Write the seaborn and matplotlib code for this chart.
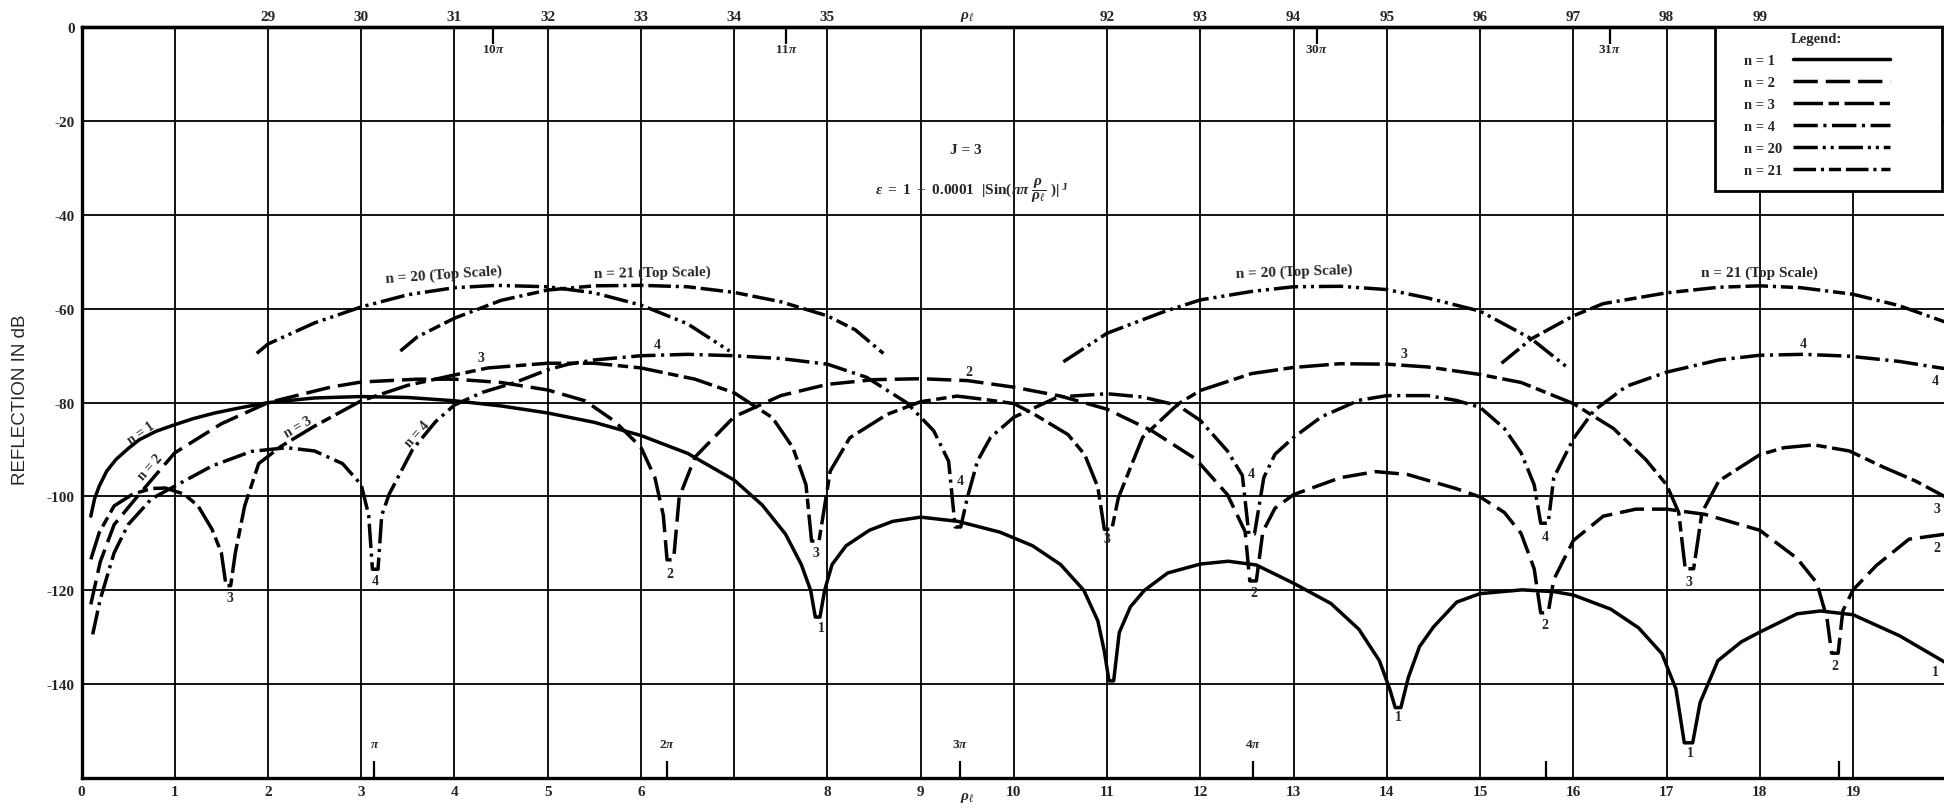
import numpy as np
import pandas as pd
import matplotlib
matplotlib.use("Agg")
import matplotlib.pyplot as plt
import seaborn as sns
from matplotlib.lines import Line2D
from matplotlib.patches import Rectangle

# ---------------- data ----------------
n1_x = [0.10, 0.14, 0.19, 0.27, 0.37, 0.5, 0.62, 0.8, 1.0, 1.2, 1.43, 1.7, 2.0, 2.5, 3.0, 3.5, 4.0,
        4.5, 5.0, 5.5, 6.0, 6.5, 7.0, 7.3, 7.55, 7.72, 7.82, 7.87, 7.92, 7.97, 8.05, 8.2, 8.45, 8.7,
        9.0, 9.4, 9.85, 10.2, 10.5, 10.75, 10.9, 10.97, 11.02, 11.07, 11.13, 11.25, 11.4, 11.65,
        12.0, 12.3, 12.6, 13.0, 13.4, 13.7, 13.92, 14.03, 14.09, 14.15, 14.23, 14.35, 14.5, 14.75,
        15.0, 15.45, 15.8, 16.0, 16.4, 16.7, 16.95, 17.1, 17.19, 17.28, 17.36, 17.55, 17.8, 18.0,
        18.4, 18.65, 19.0, 19.5, 20.0]
n1_y = [-104.2, -100.5, -97.8, -94.6, -92.1, -89.8, -87.9, -86.1, -84.7, -83.4, -82.2, -81.1,
        -80.0, -79.0, -78.7, -78.9, -79.6, -80.7, -82.2, -84.2, -87.0, -90.8, -96.5, -101.8,
        -108.0, -114.5, -120.0, -125.7, -125.7, -120.0, -114.5, -110.5, -107.2, -105.3, -104.4,
        -105.3, -107.6, -110.5, -114.5, -120.0, -126.5, -133.0, -139.3, -139.3, -129.0, -123.5,
        -120.0, -116.3, -114.4, -113.8, -114.6, -118.5, -122.8, -128.3, -135.0, -141.0, -145.0,
        -145.0, -138.6, -132.0, -127.8, -122.5, -120.7, -119.9, -120.3, -121.0, -124.0, -128.0,
        -133.5, -141.0, -152.5, -152.5, -143.9, -135.0, -131.0, -128.9, -125.0, -124.4, -125.2,
        -129.7, -135.5]

n2_x = [0.10, 0.2, 0.35, 0.62, 1.0, 1.5, 2.0, 2.67, 3.0, 3.6, 4.0, 4.5, 5.0, 5.4, 5.72, 6.0, 6.15,
        6.24, 6.28, 6.35, 6.41, 6.58, 7.0, 7.5, 8.0, 8.5, 9.0, 9.5, 10.0, 10.5, 11.0, 11.48, 11.95,
        12.29, 12.48, 12.53, 12.6, 12.67, 12.8, 13.0, 13.5, 13.88, 14.22, 14.74, 15.0, 15.26, 15.44,
        15.58, 15.65, 15.73, 15.79, 16.0, 16.32, 16.67, 17.0, 17.41, 18.0, 18.4, 18.61, 18.72,
        18.77, 18.84, 18.89, 19.0, 19.25, 19.6, 20.0]
n2_y = [-123.0, -114.0, -106.0, -99.5, -90.7, -84.5, -80.0, -76.7, -75.6, -75.0, -75.0, -75.7,
        -77.3, -79.6, -84.0, -89.5, -96.0, -104.0, -113.5, -113.5, -100.2, -91.6, -83.0, -78.5,
        -76.1, -75.1, -74.9, -75.3, -76.7, -78.6, -81.4, -86.0, -92.0, -99.6, -107.5, -118.0,
        -118.0, -107.5, -102.5, -99.6, -96.0, -94.7, -95.3, -98.3, -100.1, -103.4, -107.9, -115.4,
        -124.8, -124.8, -117.7, -109.4, -104.2, -102.7, -102.7, -103.8, -107.2, -113.2, -118.4,
        -125.9, -133.4, -133.4, -124.4, -119.9, -114.7, -109.1, -108.0]

n3_x = [0.10, 0.19, 0.35, 0.55, 0.75, 0.9, 1.1, 1.25, 1.4, 1.5, 1.55, 1.6, 1.65, 1.75, 1.9, 2.14,
        2.5, 3.0, 3.5, 4.0, 4.36, 5.0, 5.5, 6.0, 6.58, 7.0, 7.41, 7.63, 7.77, 7.83, 7.91, 8.03, 8.24,
        8.64, 9.0, 9.39, 9.68, 10.0, 10.22, 10.58, 10.76, 10.9, 10.97, 11.05, 11.12, 11.38, 11.76,
        12.0, 12.55, 13.0, 13.5, 14.0, 14.44, 15.0, 15.44, 16.0, 16.43, 16.78, 17.0, 17.13, 17.2,
        17.29, 17.38, 17.56, 18.0, 18.26, 18.58, 18.96, 19.32, 19.67, 20.0]
n3_y = [-113.4, -107.7, -102.0, -99.5, -98.3, -98.2, -99.5, -102.0, -107.0, -112.0, -119.0,
        -119.0, -112.0, -102.0, -93.0, -89.3, -85.0, -79.6, -76.3, -74.1, -72.6, -71.6, -71.6,
        -72.6, -75.0, -77.9, -83.2, -89.6, -97.5, -109.5, -109.5, -94.6, -87.5, -82.5, -79.8,
        -78.6, -79.3, -80.2, -82.5, -86.8, -91.1, -98.0, -107.0, -107.0, -100.3, -87.4, -80.3,
        -77.4, -73.8, -72.5, -71.7, -71.8, -72.4, -74.0, -75.7, -80.2, -85.5, -92.2, -97.5,
        -103.4, -115.4, -115.4, -103.4, -96.7, -91.1, -89.6, -89.0, -90.3, -93.7, -96.7, -100.2]

n4_x = [0.12, 0.2, 0.35, 0.5, 0.75, 1.0, 1.4, 1.82, 2.2, 2.5, 2.8, 3.0, 3.08, 3.12, 3.18, 3.22,
        3.3, 3.55, 3.8, 4.0, 4.3, 4.65, 5.0, 5.22, 5.5, 6.0, 6.5, 7.0, 7.5, 8.0, 8.42, 8.85, 9.14,
        9.3, 9.37, 9.43, 9.5, 9.61, 9.75, 10.0, 10.47, 11.0, 11.38, 11.76, 12.0, 12.29, 12.45,
        12.52, 12.58, 12.68, 12.8, 13.0, 13.3, 13.7, 14.0, 14.44, 14.74, 15.0, 15.26, 15.44, 15.58,
        15.65, 15.73, 15.79, 16.0, 16.22, 16.57, 17.0, 17.56, 18.0, 18.47, 18.96, 19.49, 20.0]
n4_y = [-129.4, -122.0, -112.0, -106.0, -100.5, -97.8, -93.5, -90.4, -89.6, -90.3, -93.0, -97.5,
        -104.0, -115.5, -115.5, -104.0, -99.5, -90.0, -84.0, -80.5, -77.8, -75.7, -73.0, -71.8,
        -70.9, -70.0, -69.7, -70.0, -70.6, -71.8, -74.6, -80.0, -86.0, -92.5, -106.5, -106.5,
        -100.3, -92.4, -87.4, -83.1, -78.8, -78.1, -78.8, -80.6, -83.8, -90.3, -95.5, -108.0,
        -108.0, -96.0, -91.0, -87.4, -83.0, -79.5, -78.5, -78.5, -79.5, -81.0, -85.5, -90.7,
        -97.5, -105.7, -105.7, -96.0, -87.7, -81.7, -76.5, -73.5, -70.9, -69.9, -69.7, -70.1,
        -71.2, -72.8]

# n = 20 and n = 21 are read on the top scale; positions given on the shared axis
n20_left_x = [1.88, 2.0, 2.5, 3.0, 3.5, 4.0, 4.45, 5.0, 5.5, 6.0, 6.5, 6.95]
n20_left_y = [-69.5, -67.5, -63.0, -59.6, -57.0, -55.5, -55.0, -55.3, -56.6, -59.2, -63.2, -69.0]
n21_left_x = [3.42, 3.6, 4.0, 4.5, 5.0, 5.5, 6.0, 6.5, 7.0, 7.5, 8.0, 8.3, 8.6]
n21_left_y = [-69.0, -66.0, -62.0, -58.2, -56.0, -55.1, -55.0, -55.3, -56.5, -58.5, -61.5, -64.5, -69.5]
n20_right_x = [10.53, 11.0, 11.61, 12.0, 12.55, 13.0, 13.5, 14.0, 14.44, 15.0, 15.55, 15.93]
n20_right_y = [-71.3, -65.2, -60.6, -58.1, -56.3, -55.3, -55.2, -55.9, -57.7, -60.5, -66.4, -72.4]
n21_right_x = [15.23, 15.55, 16.0, 16.32, 17.0, 17.56, 18.0, 18.44, 19.0, 19.49, 20.0]
n21_right_y = [-71.6, -66.4, -61.5, -58.9, -56.6, -55.4, -55.1, -55.5, -56.9, -59.3, -62.9]

bottom_ticks = list(range(0, 20))
bottom_labels = ["" if i == 7 else str(i) for i in bottom_ticks]
top_ticks = [2, 3, 4, 5, 6, 7, 8, 9.5, 11, 12, 13, 14, 15, 16, 17, 18]
top_labels = ["29", "30", "31", "32", "33", "34", "35", r"$\rho_\ell$",
              "92", "93", "94", "95", "96", "97", "98", "99"]
y_ticks = [0, -20, -40, -60, -80, -100, -120, -140, -160]
y_labels = ["0", "-20", "-40", "-60", "-80", "-100", "-120", "-140", ""]
pi_bottom_pos = [np.pi, 2 * np.pi, 3 * np.pi, 4 * np.pi, 5 * np.pi, 6 * np.pi]
pi_bottom_labels = [r"$\pi$", r"2$\pi$", r"3$\pi$", r"4$\pi$", "", ""]
pi_top_pos = [10 * np.pi - 27, 11 * np.pi - 27, 30 * np.pi - 81, 31 * np.pi - 81]
pi_top_labels = [r"10$\pi$", r"11$\pi$", r"30$\pi$", r"31$\pi$"]

series_names = ["n = 1", "n = 2", "n = 3", "n = 4", "n = 20", "n = 21"]

# ---------------- build table ----------------
rows = []
def add(name, seg, xs, ys):
    for a, b in zip(xs, ys):
        rows.append((name, seg, a, b))
add("n = 1", "1", n1_x, n1_y)
add("n = 2", "2", n2_x, n2_y)
add("n = 3", "3", n3_x, n3_y)
add("n = 4", "4", n4_x, n4_y)
add("n = 20", "20a", n20_left_x, n20_left_y)
add("n = 20", "20b", n20_right_x, n20_right_y)
add("n = 21", "21a", n21_left_x, n21_left_y)
add("n = 21", "21b", n21_right_x, n21_right_y)
df = pd.DataFrame(rows, columns=["n", "seg", "x", "y"])

dash_map = {
    "n = 1": "",
    "n = 2": (7.0, 2.3),
    "n = 3": (8.5, 1.6, 3.0, 1.6),
    "n = 4": (7.0, 1.6, 0.9, 1.6),
    "n = 20": (7.0, 1.4, 0.9, 1.4, 0.9, 1.4),
    "n = 21": (6.5, 1.4, 0.9, 1.4, 3.5, 1.4),
}

# ---------------- figure ----------------
sns.set_theme(style="white")
plt.rcParams["font.family"] = ["Liberation Serif", "DejaVu Serif"]
plt.rcParams["font.weight"] = "bold"
plt.rcParams["mathtext.fontset"] = "custom"
plt.rcParams["mathtext.rm"] = "Liberation Serif:bold"
plt.rcParams["mathtext.it"] = "Liberation Serif:italic:bold"
plt.rcParams["mathtext.bf"] = "Liberation Serif:bold"

W, H = 1944, 812
fig = plt.figure(figsize=(W / 100, H / 100), dpi=100)
left_px, right_px, top_px, bot_px = 81.5, 1946.3, 28.3, 779.0
ax_w = right_px - left_px
ax_h = bot_px - top_px
ax = fig.add_axes([left_px / W, (H - bot_px) / H, ax_w / W, ax_h / H])

LW = 2.5
sns.lineplot(data=df, x="x", y="y", style="n", units="seg", estimator=None, sort=False,
             dashes=dash_map, color="black", linewidth=LW, legend=False, ax=ax, zorder=3)

ax.set_xlim(0, 20)
ax.set_ylim(-160, 0)
ax.set_xticks(bottom_ticks)
ax.set_xticklabels(bottom_labels, fontsize=11)
ax.set_yticks(y_ticks)
ax.set_yticklabels(y_labels, fontsize=11)
ax.tick_params(axis="both", which="major", length=0, pad=5)
ax.grid(True, which="major", color="black", linewidth=1.3)
for side in ["left", "bottom", "top"]:
    ax.spines[side].set_color("black")
    ax.spines[side].set_linewidth(2.4)
ax.spines["right"].set_visible(False)

# pi markers along the bottom
ax.set_xticks(pi_bottom_pos, minor=True)
ax.tick_params(axis="x", which="minor", direction="in", length=12, width=1.6, color="black",
               bottom=True)
for p, lab in zip(pi_bottom_pos, pi_bottom_labels):
    if lab:
        ax.text(p, -154.0, lab, ha="center", va="bottom", fontsize=9.5)

ax.set_xlabel(r"$\rho_\ell$", fontsize=11)
ax.xaxis.set_label_coords(9.5 / 20, -0.016)
ax.set_ylabel("REFLECTION IN dB", fontsize=13.5, family="Liberation Sans", fontweight="normal")
ax.yaxis.set_label_coords(-0.028, 0.505)

# top scale
sec = ax.secondary_xaxis("top")
sec.set_xticks(top_ticks)
sec.set_xticklabels(top_labels, fontsize=11)
sec.tick_params(axis="x", which="major", length=0, pad=3)
sec.set_xticks(pi_top_pos + [9.5], minor=True)
sec.tick_params(axis="x", which="minor", direction="in", length=12, width=1.6, color="black")
sec.spines["top"].set_linewidth(2.4)
for p, lab in zip(pi_top_pos, pi_top_labels):
    ax.text(p, -3.4, lab, ha="center", va="top", fontsize=9.5)

# annotations
ax.text(9.48, -26.0, "J = 3", ha="center", va="center", fontsize=11)
ax.text(9.55, -34.5, r"$\epsilon\ =\ 1\ +\ 0.0001\ \ |\mathrm{Sin}(n\pi\ \dfrac{\rho}{\rho_\ell}\ )|^{\ \mathrm{J}}$",
        ha="center", va="center", fontsize=11)

ax.text(3.88, -52.6, "n = 20 (Top Scale)", ha="center", va="center", fontsize=11, rotation=4)
ax.text(6.12, -52.3, "n = 21 (Top Scale)", ha="center", va="center", fontsize=11, rotation=1)
ax.text(13.0, -52.0, "n = 20 (Top Scale)", ha="center", va="center", fontsize=11, rotation=2)
ax.text(18.0, -52.2, "n = 21 (Top Scale)", ha="center", va="center", fontsize=11)

ax.text(0.64, -86.3, "n = 1", ha="center", va="center", fontsize=10, rotation=35)
ax.text(0.74, -93.6, "n = 2", ha="center", va="center", fontsize=10, rotation=48)
ax.text(2.32, -85.0, "n = 3", ha="center", va="center", fontsize=10, rotation=30)
ax.text(3.6, -86.5, "n = 4", ha="center", va="center", fontsize=10, rotation=48)

curve_marks = [
    ("3", 1.59, -121.5), ("4", 3.15, -118.0), ("2", 6.31, -116.5), ("3", 7.88, -112.0),
    ("1", 7.93, -128.0), ("4", 9.42, -96.5), ("3", 11.0, -109.0), ("4", 12.55, -95.0),
    ("2", 12.57, -120.5), ("1", 14.12, -146.8), ("4", 15.7, -108.6), ("2", 15.7, -127.2),
    ("3", 17.24, -118.2), ("1", 17.26, -154.6), ("2", 18.8, -136.0),
    ("3", 4.28, -70.3), ("4", 6.17, -67.5), ("2", 9.52, -73.3), ("3", 14.18, -69.5),
    ("4", 18.47, -67.3),
    ("4", 19.88, -75.3), ("3", 19.9, -102.5), ("2", 19.9, -110.8), ("1", 19.88, -137.3),
]
for t, xx, yy in curve_marks:
    ax.text(xx, yy, t, ha="center", va="center", fontsize=10)

# legend: white framed box in the upper right corner
box_l, box_r, box_b = 1715.0, 1942.0, 192.0
ax.add_patch(Rectangle(((box_l - left_px) / ax_w, (bot_px - box_b) / ax_h),
                       (box_r - box_l) / ax_w, 1.0 - (bot_px - box_b) / ax_h,
                       transform=ax.transAxes, facecolor="white", edgecolor="black",
                       linewidth=2.0, zorder=8, clip_on=False))
handles = []
for name in series_names:
    h = Line2D([], [], color="black", linewidth=LW)
    d = dash_map[name]
    if d:
        h.set_dashes(d)
    handles.append(h)
LEG_FS = 10.5
TEXT_PAD = 0.75
leg = ax.legend(handles, series_names, title="Legend:", loc="upper left",
                bbox_to_anchor=((1744 - left_px) / ax_w, (bot_px - 33) / ax_h),
                markerfirst=False, frameon=False, fontsize=LEG_FS, title_fontsize=LEG_FS,
                handlelength=6.6, handletextpad=TEXT_PAD, labelspacing=0.6, borderpad=0.0,
                borderaxespad=0.0)
leg.set_zorder(10)

# left-align the legend labels while keeping the sample lines aligned
fig.canvas.draw()
renderer = fig.canvas.get_renderer()
widths = [t.get_window_extent(renderer).width for t in leg.get_texts()]
maxw = max(widths)
for column in leg._legend_handle_box.get_children():
    for row, w in zip(column.get_children(), widths):
        row.sep = TEXT_PAD * LEG_FS + (maxw - w) * 72.0 / fig.dpi

fig.savefig("out.png", dpi=100)
